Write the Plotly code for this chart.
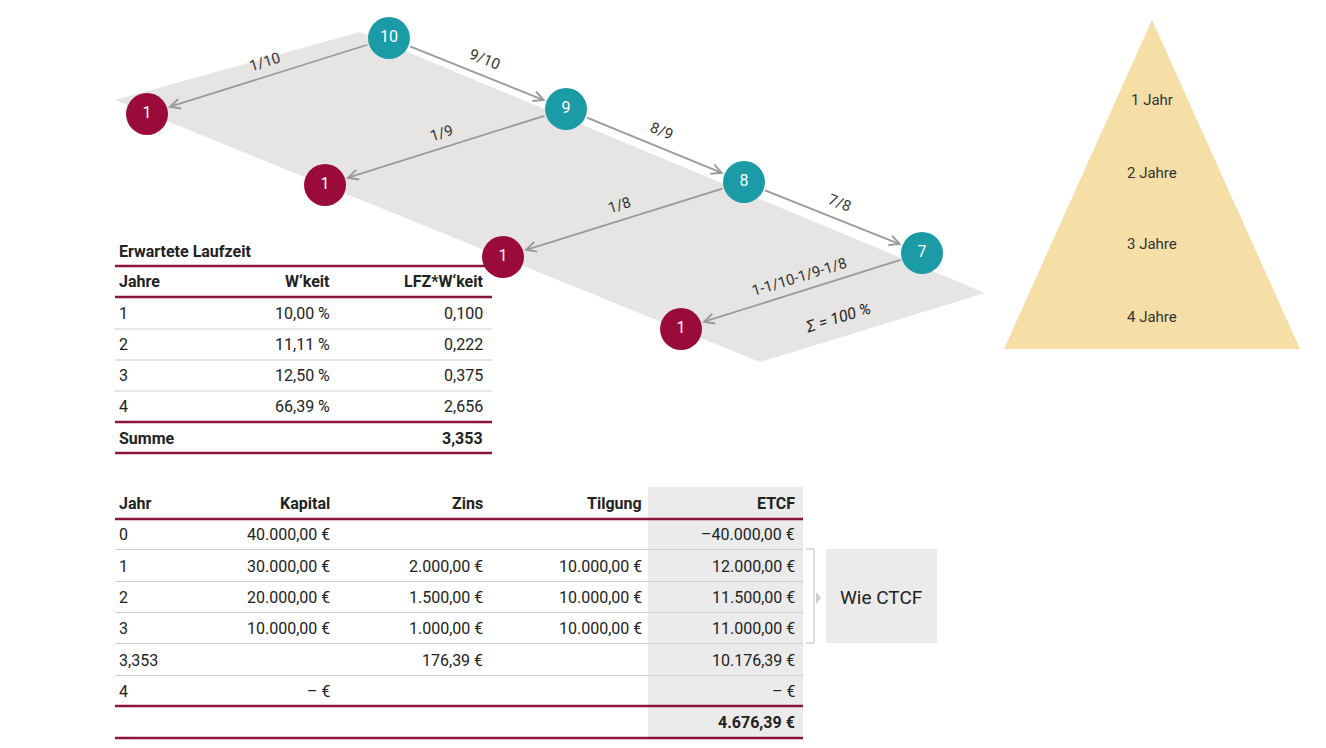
import numpy as np
import plotly.graph_objects as go

# --- data ---
teal_labels = ["10", "9", "8", "7"]
red_labels = ["1", "1", "1", "1"]
down_labels = ["9/10", "8/9", "7/8"]
left_labels = ["1/10", "1/9", "1/8", "1-1/10-1/9-1/8"]
pyramid_labels = ["1 Jahr", "2 Jahre", "3 Jahre", "4 Jahre"]

t1_title = "Erwartete Laufzeit"
t1_head = ["Jahre", "W‘keit", "LFZ*W‘keit"]
t1_jahre = ["1", "2", "3", "4"]
t1_wkeit = ["10,00 %", "11,11 %", "12,50 %", "66,39 %"]
t1_lfz = ["0,100", "0,222", "0,375", "2,656"]
t1_sum = ["Summe", "", "3,353"]

t2_head = ["Jahr", "Kapital", "Zins", "Tilgung", "ETCF"]
t2_jahr = ["0", "1", "2", "3", "3,353", "4", ""]
t2_kapital = ["40.000,00 €", "30.000,00 €", "20.000,00 €", "10.000,00 €", "", "– €", ""]
t2_zins = ["", "2.000,00 €", "1.500,00 €", "1.000,00 €", "176,39 €", "", ""]
t2_tilgung = ["", "10.000,00 €", "10.000,00 €", "10.000,00 €", "", "", ""]
t2_etcf = ["–40.000,00 €", "12.000,00 €", "11.500,00 €", "11.000,00 €", "10.176,39 €", "– €", "4.676,39 €"]

TEAL = "#1a9ba6"
RED = "#9b0b3a"
MAROON = "#8a1538"
GREY = "#9a9a9a"
FONT = "Roboto"

fig = go.Figure()
shapes, ann = [], []

# grey plane
shapes.append(dict(type="path", path="M 115 100 L 360 32 L 985 293 L 760 362 Z",
                   fillcolor="#e6e5e4", line_width=0, layer="below"))

teal_xy = [(389, 38), (566, 109), (744, 182), (922, 253)]
red_xy = [(147, 114), (325, 185), (503, 257), (681, 329)]
R = 21


def shorten(p, q, r1, r2):
    p, q = np.array(p, float), np.array(q, float)
    d = (q - p) / np.linalg.norm(q - p)
    return p + d * r1, q - d * r2


def arrow(p, q, label, angle, off):
    a, b = shorten(p, q, R, R + 1)
    ann.append(dict(x=b[0], y=b[1], ax=a[0], ay=a[1], xref="x", yref="y", axref="x", ayref="y",
                    showarrow=True, arrowhead=5, arrowsize=1.1, arrowwidth=1.8, arrowcolor=GREY, text=""))
    m = (a + b) / 2
    ann.append(dict(x=m[0] + off[0], y=m[1] + off[1], text=label, showarrow=False, textangle=angle,
                    font=dict(size=15, color="#333")))


for i in range(3):
    arrow(teal_xy[i], teal_xy[i + 1], down_labels[i], 22, (7, -14))
for i in range(3):
    arrow(teal_xy[i], red_xy[i], left_labels[i], -17, (-4, -14))
arrow(teal_xy[3], red_xy[3], left_labels[3], -17, (-3, -14))
ann.append(dict(x=838, y=317, text="<i>Σ = 100 %</i>", showarrow=False, textangle=-17,
                font=dict(size=16, color="#222")))

fig.add_trace(go.Scatter(x=[p[0] for p in teal_xy], y=[p[1] for p in teal_xy], mode="markers+text",
                         text=teal_labels, textfont=dict(color="white", size=16, family=FONT),
                         marker=dict(size=42, color=TEAL), hoverinfo="skip"))
fig.add_trace(go.Scatter(x=[p[0] for p in red_xy], y=[p[1] for p in red_xy], mode="markers+text",
                         text=red_labels, textfont=dict(color="white", size=16, family=FONT),
                         marker=dict(size=42, color=RED), hoverinfo="skip"))

# pyramid
shapes.append(dict(type="path", path="M 1152 20 L 1300 349 L 1004 349 Z", fillcolor="#f5dfa6", line_width=0))
for lab, y in zip(pyramid_labels, [100, 173, 244, 317]):
    ann.append(dict(x=1152, y=y, text=lab, showarrow=False, font=dict(size=15, color="#333")))


def txt(x, y, s, anchor, bold=False, size=16):
    if s == "":
        return
    ann.append(dict(x=x, y=y, text=f"<b>{s}</b>" if bold else s, showarrow=False, xanchor=anchor,
                    font=dict(size=size, color="#222")))


def hline(x0, x1, y, color, w):
    shapes.append(dict(type="line", x0=x0, x1=x1, y0=y, y1=y, line=dict(color=color, width=w)))


# table 1
txt(117, 251, t1_title, "left", bold=True)
hline(115, 492, 266, MAROON, 2.5)
for x, s, a in zip([117, 332, 485], t1_head, ["left", "right", "right"]):
    txt(x, 281, s, a, bold=True)
hline(115, 492, 297, MAROON, 2.5)
ys1 = [313, 344, 375, 406]
for i, y in enumerate(ys1):
    txt(117, y, t1_jahre[i], "left")
    txt(332, y, t1_wkeit[i], "right")
    txt(485, y, t1_lfz[i], "right")
    if i < 3:
        hline(115, 492, y + 16, "#cccccc", 1)
hline(115, 492, 422, MAROON, 2.5)
txt(117, 438, t1_sum[0], "left", bold=True)
txt(485, 438, t1_sum[2], "right", bold=True)
hline(115, 492, 453, MAROON, 2.5)

# table 2
shapes.append(dict(type="rect", x0=648, x1=803, y0=487, y1=738, fillcolor="#ebebeb", line_width=0, layer="below"))
cols_x = [117, 332, 485, 644, 797]
anchors = ["left", "right", "right", "right", "right"]
for x, s, a in zip(cols_x, t2_head, anchors):
    txt(x, 503, s, a, bold=True)
hline(115, 803, 519, MAROON, 2.5)
ys2 = [534, 566, 597, 628, 660, 691, 722]
for i, y in enumerate(ys2):
    row = [t2_jahr[i], t2_kapital[i], t2_zins[i], t2_tilgung[i], t2_etcf[i]]
    for x, s, a in zip(cols_x, row, anchors):
        txt(x, y, s, a, bold=(i == 6))
    if i < 5:
        hline(115, 803, y + 15.5, "#cccccc", 1)
hline(115, 803, 706, MAROON, 2.5)
hline(115, 803, 738, MAROON, 2.5)

# bracket + box
shapes.append(dict(type="path", path="M 806 549 L 814 549 L 814 643 L 806 643",
                   line=dict(color="#bbbbbb", width=1)))
shapes.append(dict(type="path", path="M 816 592 L 821 598 L 816 604 Z", fillcolor="#cccccc", line_width=0))
shapes.append(dict(type="rect", x0=826, x1=937, y0=549, y1=643, fillcolor="#ebebeb", line_width=0))
ann.append(dict(x=881, y=597, text="Wie CTCF", showarrow=False, font=dict(size=19, color="#222")))

# page body has an 8px margin, so offset the axis ranges to line up with the reference
fig.update_layout(
    width=1326, height=748, margin=dict(l=0, r=0, t=0, b=0),
    plot_bgcolor="white", paper_bgcolor="white", showlegend=False,
    font=dict(family=FONT, color="#222"),
    xaxis=dict(range=[8, 1334], visible=False, fixedrange=True),
    yaxis=dict(range=[756, 8], visible=False, fixedrange=True),
    shapes=shapes, annotations=ann,
)
fig.write_html("out.html")
